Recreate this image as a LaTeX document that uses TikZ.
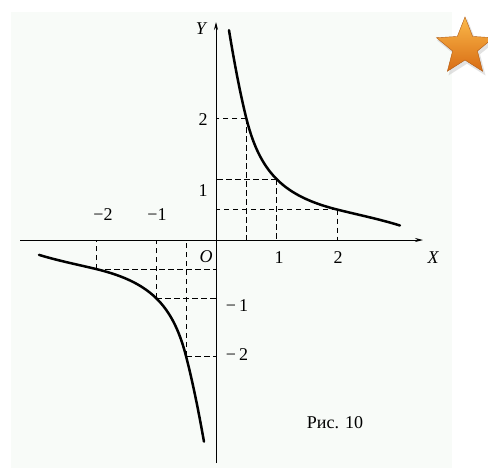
\documentclass[tikz,border=0pt]{standalone}
\usepackage{fontspec}
\setmainfont{Liberation Serif}
\usetikzlibrary{arrows.meta,shapes.geometric}
\definecolor{panel}{HTML}{F8FBF8}
\definecolor{starlight}{HTML}{FBB94A}
\definecolor{stardark}{HTML}{D86C14}
\definecolor{staredge}{HTML}{B05A14}
\tikzset{
  axis/.style={line width=0.8pt,-{Stealth[length=8pt,width=4pt]}},
  curve/.style={line width=2.5pt,line join=round,line cap=round},
  guide/.style={line width=0.75pt,dash pattern=on 5.5pt off 3.5pt},
  lab/.style={font=\fontsize{18}{18}\selectfont,inner sep=0pt},
  axlab/.style={font=\fontsize{18}{18}\selectfont\itshape,inner sep=0pt}
}
\begin{document}
\begin{tikzpicture}[x=1pt,y=-1pt]
\useasboundingbox (0,0) rectangle (488,469);
\fill[white] (0,0) rectangle (488,469);
\fill[panel] (11,12) rectangle (452,468);
% star
\node[star,star points=5,star point ratio=2.3,minimum size=63pt,inner sep=0pt,
      fill=black!25,opacity=0.45] (starsh) at (467,50) {};
\node[star,star points=5,star point ratio=2.3,minimum size=60pt,inner sep=0pt,
      top color=starlight,bottom color=stardark,draw=staredge,line width=0.4pt] (star) at (465,47) {};
% coordinates
\coordinate (O) at (216,240);
\coordinate (xl) at (20,240);
\coordinate (xr) at (423,240);
\coordinate (yb) at (216,463);
\coordinate (yt) at (216,22);
\coordinate (pA) at (246.25,118);
\coordinate (pB) at (276.5,179);
\coordinate (pC) at (337,209.5);
\coordinate (qA) at (96,269);
\coordinate (qB) at (156,298);
\coordinate (qC) at (186,356);
% dashed guides
\draw[guide] (pA) -- (pA |- O);
\draw[guide] (pA) -- (pA -| O);
\draw[guide] (pB) -- (pB |- O);
\draw[guide] (pB) -- (pB -| O);
\draw[guide] (pC) -- (pC |- O);
\draw[guide] (pC) -- (pC -| O);
\draw[guide] (qA) -- (qA |- O);
\draw[guide] (qA) -- (qA -| O);
\draw[guide] (qB) -- (qB |- O);
\draw[guide] (qB) -- (qB -| O);
\draw[guide] (qC) -- (qC |- O);
\draw[guide] (qC) -- (qC -| O);
% axes
\draw[axis] (xl) -- (xr);
\draw[axis] (yb) -- (yt);
% curves
\draw[curve]
  plot[domain=0.215:0.5,samples=30] ({216+60.5*\x},{240-61*(2-4*(\x-0.5)+3.69*(\x-0.5)^2)})
  -- plot[domain=0.5:2,samples=60] ({216+60.5*\x},{240-61/\x})
  -- plot[domain=2:3.04,samples=30] ({216+60.5*\x},{240-61*(0.5-0.25*(\x-2)+0.05*(\x-2)^2-0.05*(\x-2)^3)});
\draw[curve]
  plot[domain=2.95:2,samples=30] ({216-60*\x},{240+58*(0.5-0.25*(\x-2)+0.05*(\x-2)^2-0.06*(\x-2)^3)})
  -- plot[domain=2:0.5,samples=60] ({216-60*\x},{240+58/\x})
  -- plot[domain=0.5:0.2,samples=30] ({216-60*\x},{240+58*(2+4*(0.5-\x)+3.1*(0.5-\x)^2)});
% labels
\node[axlab] (Y) at (201,29) {Y};
\node[axlab] (X) at (433,258) {X};
\node[axlab] (Olab) at (206,257) {O};
\node[lab] (y2) at (203,120) {2};
\node[lab] (y1) at (203,191) {1};
\node[lab] (x1) at (279,258) {1};
\node[lab] (x2) at (338,258) {2};
\node[lab] (xm2) at (103,215) {−2};
\node[lab] (xm1) at (157,215) {−1};
\node[lab] (ym1) at (237,306) {−\,1};
\node[lab] (ym2) at (237,355) {−\,2};
\node[lab] (cap) at (335,423) {Рис. 10};
\end{tikzpicture}
\end{document}
